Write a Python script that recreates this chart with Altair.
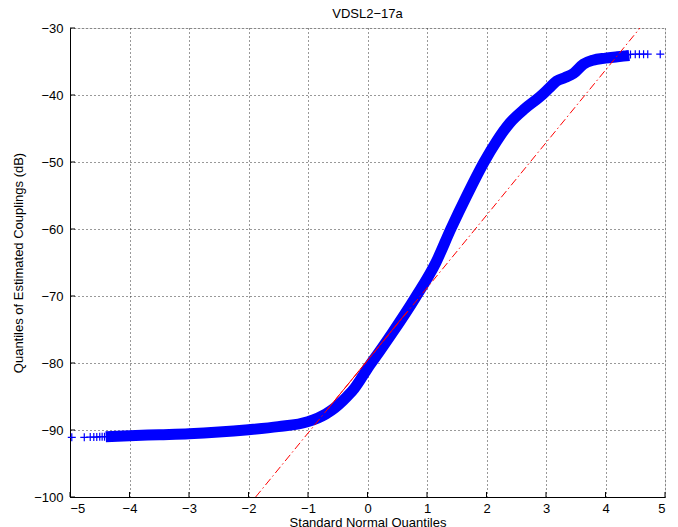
import altair as alt
import pandas as pd

# Dense QQ band
band_x = [-4.40, -4.0, -3.5, -3.0, -2.5, -2.0, -1.5, -1.0, -0.7, -0.55, -0.41, -0.3, -0.24,
          -0.1, 0.0, 0.2, 0.41, 0.8, 1.15, 1.40, 1.67, 1.96, 2.17, 2.39, 2.65, 2.9, 3.05,
          3.18, 3.32, 3.46, 3.63, 3.79, 4.0, 4.2, 4.4]
band_y = [-91.0, -90.85, -90.7, -90.55, -90.3, -89.95, -89.5, -88.75, -87.6, -86.7, -85.6,
          -84.6, -84.0, -82.2, -80.8, -78.3, -75.6, -70.3, -65.0, -60.0, -55.0, -50.0, -46.9,
          -44.2, -42.0, -40.25, -39.0, -37.9, -37.4, -36.8, -35.4, -34.8, -34.5, -34.3, -34.1]

# Sparse tail markers
tail_x = [-4.97, -4.76, -4.66, -4.60, -4.55, -4.50, -4.46, -4.42, -4.38,
          4.30, 4.36, 4.42, 4.50, 4.57, 4.64, 4.71, 4.92]
tail_y = [-91.1, -91.1, -91.05, -91.05, -91.05, -91.0, -91.0, -91.0, -91.0,
          -34.0, -34.0, -33.95, -33.9, -33.9, -33.9, -33.9, -33.9]

# Reference line (dash-dot extension) and solid inter-quartile part
ref_x = [-1.88, 4.58]
ref_y = [-100.0, -30.0]
iqr_x = [-0.67, 0.67]
iqr_y = [-86.9, -72.3]

x_ticks = [-5, -4, -3, -2, -1, 0, 1, 2, 3, 4, 5]
y_ticks = [-100, -90, -80, -70, -60, -50, -40, -30]

title_text = ["VDSL2\u221217a"]

W, H = 595, 469
FONT = "Liberation Sans"

band = pd.DataFrame({"x": band_x, "y": band_y, "i": list(range(len(band_x)))})
tails = pd.DataFrame({"x": tail_x, "y": tail_y})
ref = pd.DataFrame({"x": ref_x, "y": ref_y})
iqr = pd.DataFrame({"x": iqr_x, "y": iqr_y})
xt = pd.DataFrame({"x": x_ticks})
yt = pd.DataFrame({"y": y_ticks})
tt = pd.DataFrame({"t": title_text})

xscale = alt.Scale(domain=[-5, 5], nice=False, zero=False)
yscale = alt.Scale(domain=[-100, -30], nice=False, zero=False)

xaxis = alt.Axis(values=x_ticks, grid=True, gridDash=[1, 3], gridColor="#333333",
                 gridOpacity=1, ticks=False, tickSize=0, domainColor="black",
                 labelFont=FONT, labelFontSize=13, labelColor="black", labelPadding=5,
                 title="Standard Normal Quantiles", titleFont=FONT, titleFontSize=13,
                 titleFontWeight="normal", titleColor="black", titleBaseline="middle",
                 titleX=W / 2, titleY=25, format="d")
yaxis = alt.Axis(values=y_ticks, grid=True, gridDash=[1, 3], gridColor="#333333",
                 gridOpacity=1, ticks=False, tickSize=0, domainColor="black",
                 labelFont=FONT, labelFontSize=13, labelColor="black", labelPadding=7,
                 title="Quantiles of Estimated Couplings (dB)", titleFont=FONT,
                 titleFontSize=13, titleFontWeight="normal", titleColor="black",
                 titleBaseline="middle", titleX=-52, titleY=H / 2, format="d")

base_x = alt.X("x:Q", scale=xscale, axis=xaxis)
base_y = alt.Y("y:Q", scale=yscale, axis=yaxis)

band_line = alt.Chart(band).mark_line(color="#0000ff", strokeWidth=11, clip=True,
                                      interpolate="monotone").encode(
    x=base_x, y=base_y, order="i:Q")

plus = "M-1,0L1,0M0,-1L0,1"
tail_pts = alt.Chart(tails).mark_point(shape=plus, size=64, filled=False, color="#0000ff",
                                       strokeWidth=1.2, opacity=1).encode(
    x=alt.X("x:Q", scale=xscale), y=alt.Y("y:Q", scale=yscale))

ref_line = alt.Chart(ref).mark_line(color="#ff0000", strokeWidth=1,
                                    strokeDash=[8, 3, 1.5, 3], clip=True).encode(
    x=alt.X("x:Q", scale=xscale), y=alt.Y("y:Q", scale=yscale))
iqr_line = alt.Chart(iqr).mark_line(color="#ff0000", strokeWidth=1).encode(
    x=alt.X("x:Q", scale=xscale), y=alt.Y("y:Q", scale=yscale))

xtick_marks = alt.Chart(xt).mark_rule(color="black", strokeWidth=1).encode(
    x=alt.X("x:Q", scale=xscale), y=alt.value(H), y2=alt.value(H - 5))
ytick_marks = alt.Chart(yt).mark_rule(color="black", strokeWidth=1).encode(
    y=alt.Y("y:Q", scale=yscale), x=alt.value(0), x2=alt.value(5))

title_mark = alt.Chart(tt).mark_text(font=FONT, fontSize=13, color="black",
                                     align="center", baseline="middle").encode(
    text="t:N", x=alt.value(W / 2), y=alt.value(-14))

chart = alt.layer(band_line, tail_pts, iqr_line, ref_line, xtick_marks, ytick_marks,
                  title_mark).properties(
    width=W, height=H,
    autosize=alt.AutoSizeParams(type="none"),
    padding={"left": 62, "top": 20, "right": 5, "bottom": 30},
).configure_view(stroke=None).configure(background="white")

chart.save("out.html", embed_options={"renderer": "svg", "actions": False})
